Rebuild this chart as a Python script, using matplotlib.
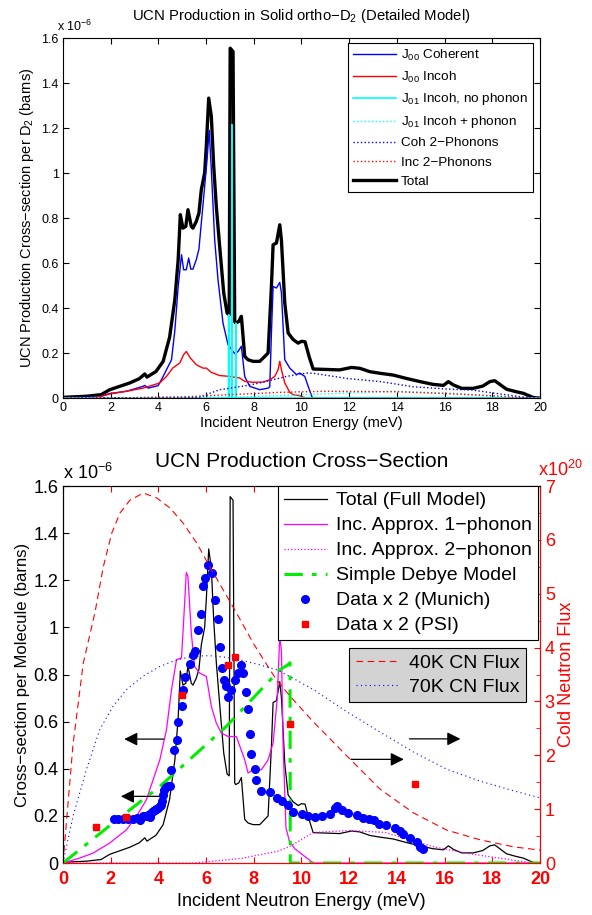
import matplotlib
matplotlib.use("Agg")
import matplotlib.pyplot as plt
from matplotlib.ticker import MultipleLocator

plt.rcParams['font.family'] = ['Liberation Sans', 'DejaVu Sans']
plt.rcParams['mathtext.default'] = 'regular'

# ---- data (cross-sections in units of 1e-6 barns, energies in meV) ----
tot_x = [0, 1.0, 1.6, 1.96, 2.38, 2.8, 3.2, 3.43, 3.52, 3.9, 4.2, 4.47, 4.69, 4.83, 4.92,
         5.03, 5.15, 5.24, 5.38, 5.45, 5.59, 5.7, 5.8, 5.94, 6.01, 6.11, 6.22, 6.32, 6.43,
         6.57, 6.74, 6.88, 6.97, 7.01, 7.13, 7.2, 7.24, 7.37, 7.48, 7.62, 7.76, 7.97, 8.25,
         8.46, 8.6, 8.74, 8.81, 8.95, 9.09, 9.16, 9.3, 9.44, 9.65, 9.86, 10.0, 10.15, 10.32,
         10.49, 11.05, 11.6, 12.1, 12.45, 12.87, 13.29, 13.85, 14.4, 14.97, 15.5, 15.95,
         16.16, 16.37, 16.72, 17.2, 17.6, 17.9, 18.1, 18.3, 18.6, 19.0, 19.3, 19.7, 19.9, 20]
tot_y = [0.003, 0.008, 0.015, 0.037, 0.052, 0.067, 0.086, 0.107, 0.093, 0.118, 0.163, 0.27,
         0.437, 0.615, 0.815, 0.755, 0.763, 0.837, 0.763, 0.755, 0.785, 0.822, 0.926, 1.0,
         1.12, 1.333, 1.252, 1.03, 0.85, 0.674, 0.467, 0.378, 0.37, 1.555, 1.54, 0.34, 0.333,
         0.34, 0.363, 0.185, 0.17, 0.163, 0.163, 0.185, 0.2, 0.496, 0.681, 0.689, 0.77, 0.7,
         0.422, 0.289, 0.26, 0.244, 0.252, 0.25, 0.184, 0.129, 0.127, 0.125, 0.136, 0.132,
         0.117, 0.11, 0.102, 0.087, 0.073, 0.061, 0.056, 0.073, 0.058, 0.043, 0.043, 0.053,
         0.073, 0.077, 0.062, 0.039, 0.028, 0.021, 0.003, 0.0, 0.0]

coh_x = [0, 1.5, 1.96, 2.66, 3.36, 3.43, 3.57, 3.99, 4.2, 4.55, 4.69, 4.83, 4.97, 5.06, 5.17,
         5.27, 5.36, 5.45, 5.59, 5.7, 5.8, 5.94, 6.04, 6.13, 6.22, 6.36, 6.5, 6.71, 6.92, 7.2,
         7.34, 7.48, 7.62, 7.83, 8.25, 8.6, 8.67, 8.74, 8.81, 8.95, 9.09, 9.16, 9.3, 9.51,
         9.79, 9.93, 10.14, 10.28, 10.46, 20]
coh_y = [0, 0.005, 0.02, 0.03, 0.052, 0.056, 0.044, 0.055, 0.096, 0.17, 0.30, 0.496, 0.637,
         0.57, 0.57, 0.622, 0.573, 0.573, 0.615, 0.662, 0.778, 0.94, 1.06, 1.19, 1.015, 0.704,
         0.526, 0.333, 0.237, 0.197, 0.207, 0.23, 0.096, 0.052, 0.037, 0.044, 0.05, 0.289,
         0.496, 0.489, 0.514, 0.467, 0.17, 0.133, 0.104, 0.111, 0.096, 0.052, 0.0, 0.0]

inc_x = [0, 1.2, 1.6, 1.96, 2.66, 3.36, 4.06, 4.34, 4.6, 4.9, 5.06, 5.17, 5.34, 5.59, 5.87,
         6.01, 6.22, 6.57, 6.99, 7.41, 7.62, 7.97, 8.39, 8.67, 8.88, 9.02, 9.09, 9.16, 9.3,
         9.51, 9.65, 9.93, 10.18, 20]
inc_y = [0, 0.002, 0.007, 0.018, 0.03, 0.044, 0.067, 0.096, 0.133, 0.156, 0.193, 0.207,
         0.178, 0.148, 0.133, 0.133, 0.114, 0.1, 0.096, 0.089, 0.074, 0.07, 0.071, 0.081,
         0.096, 0.126, 0.163, 0.126, 0.067, 0.025, 0.015, 0.01, 0.0, 0.0]

j01_x = [0, 6.94, 6.95, 6.96, 7.07, 7.08, 7.09, 7.24, 7.25, 7.26, 20]
j01_y = [0, 0, 0.37, 0, 0, 1.215, 0, 0, 0.333, 0, 0]

j01p_x = [0, 7.0, 10.0, 14.0, 16.5, 19.0, 20]
j01p_y = [0, 0.003, 0.015, 0.03, 0.02, 0.0, 0.0]

coh2_x = [0, 5.7, 6.57, 7.69, 8.25, 9.37, 10.2, 10.5, 11.9, 13.3, 14.7, 16.1, 17.2, 18.2, 19.4, 20]
coh2_y = [0, 0.003, 0.037, 0.055, 0.067, 0.096, 0.111, 0.11, 0.087, 0.073, 0.05, 0.04,
          0.035, 0.02, 0.003, 0.0]

inc2_x = [0, 2.0, 5.0, 7.0, 8.5, 9.0, 11.0, 14.0, 16.0, 18.0, 19.5, 20]
inc2_y = [0, 0.0, 0.005, 0.015, 0.022, 0.025, 0.03, 0.028, 0.02, 0.01, 0.0, 0.0]

# bottom panel
ph1_x = [0, 0.7, 1.26, 1.96, 2.66, 3.08, 3.5, 3.92, 4.06, 4.34, 4.55, 4.76, 4.97, 5.06, 5.17,
         5.24, 5.38, 5.52, 5.73, 6.01, 6.22, 6.43, 6.64, 6.92, 7.27, 7.62, 7.76, 7.97, 8.32,
         8.6, 8.81, 8.98, 9.09, 9.16, 9.23, 9.35, 9.5, 9.73, 10.15, 10.5, 20]
ph1_y = [0, 0.021, 0.042, 0.085, 0.141, 0.198, 0.269, 0.396, 0.438, 0.566, 0.735, 0.863,
         0.87, 1.03, 1.233, 1.216, 0.976, 0.834, 0.806, 0.792, 0.665, 0.594, 0.552, 0.537,
         0.537, 0.438, 0.382, 0.396, 0.396, 0.438, 0.509, 0.693, 0.962, 0.9, 0.5, 0.15,
         0.09, 0.06, 0.027, 0.0, 0.0]

ph2_x = [0, 5.5, 7.5, 9.0, 9.5, 10.5, 12.0, 13.5, 14.5, 15.5, 17.0, 18.7, 19.7, 20]
ph2_y = [0, 0.0, 0.02, 0.05, 0.07, 0.13, 0.138, 0.13, 0.1, 0.07, 0.04, 0.015, 0.0, 0.0]

deb_x = [0, 2.1, 4.06, 6.85, 9.09, 9.44, 9.52, 9.53, 20]
deb_y = [0, 0.17, 0.325, 0.58, 0.82, 0.842, 0.85, 0.0, 0.0]

mun_x = [2.13, 2.31, 2.52, 2.73, 2.94, 3.10, 3.24, 3.36, 3.47, 3.57, 3.66, 3.71, 3.78, 3.85,
         3.92, 3.99, 4.06, 4.13, 4.17, 4.20, 4.22, 4.31, 4.41, 4.48, 4.52, 4.64, 4.78, 4.83,
         4.97, 5.03, 5.10, 5.31, 5.45, 5.52, 5.66, 5.80, 5.87, 5.94, 6.08, 6.25, 6.36, 6.50,
         6.57, 6.67, 6.74, 6.85, 6.92, 7.06, 7.23, 7.34, 7.48, 7.55, 7.66, 7.76, 7.83, 7.90,
         8.04, 8.11, 8.32, 8.70, 8.98, 9.20, 9.44, 9.66, 10.01, 10.29, 10.57, 10.85, 11.19,
         11.40, 11.50, 11.68, 11.96, 12.31, 12.59, 12.84, 13.04, 13.25, 13.54, 13.92, 14.13,
         14.27, 14.55, 14.83, 14.97, 15.11]
mun_y = [0.187, 0.187, 0.187, 0.187, 0.187, 0.191, 0.184, 0.198, 0.201, 0.205, 0.194, 0.212,
         0.219, 0.223, 0.229, 0.233, 0.24, 0.248, 0.262, 0.29, 0.311, 0.321, 0.325, 0.325,
         0.396, 0.481, 0.523, 0.597, 0.665, 0.735, 0.789, 0.846, 0.884, 0.902, 0.987, 1.058,
         1.174, 1.209, 1.266, 1.231, 1.117, 1.035, 0.919, 0.827, 0.778, 0.75, 0.704, 0.735,
         0.778, 0.806, 0.84, 0.806, 0.727, 0.653, 0.549, 0.461, 0.399, 0.354, 0.304, 0.301,
         0.276, 0.262, 0.248, 0.218, 0.207, 0.2, 0.194, 0.2, 0.208, 0.232, 0.243, 0.225,
         0.214, 0.204, 0.192, 0.185, 0.183, 0.166, 0.161, 0.147, 0.136, 0.123, 0.105, 0.09,
         0.069, 0.058]

psi_x = [1.40, 2.66, 4.98, 6.90, 7.23, 9.51, 14.76]
psi_y = [0.153, 0.194, 0.714, 0.842, 0.874, 0.591, 0.335]

# cold neutron flux, units of 1e20
f40_x = [0, 0.42, 0.85, 1.34, 1.69, 2.04, 2.39, 2.81, 3.37, 3.93, 4.49, 5.04, 5.61, 6.16,
         6.72, 7.28, 7.98, 8.95, 9.52, 10.5, 11.9, 13.3, 14.7, 16.1, 17.5, 18.9, 20]
f40_y = [0, 2.2, 3.71, 4.65, 5.5, 6.12, 6.5, 6.74, 6.87, 6.78, 6.59, 6.31, 5.94, 5.5, 5.07,
         4.64, 4.08, 3.4, 3.1, 2.62, 1.99, 1.37, 0.93, 0.61, 0.43, 0.30, 0.24]
f70_x = [0, 0.42, 0.98, 1.54, 2.1, 2.66, 3.36, 4.06, 4.76, 5.45, 6.15, 6.85, 7.55, 8.25, 8.95,
         9.65, 10.5, 11.9, 13.3, 14.7, 16.1, 17.5, 18.9, 20]
f70_y = [0, 0.87, 1.73, 2.48, 2.91, 3.22, 3.47, 3.65, 3.77, 3.84, 3.85, 3.82, 3.76, 3.68, 3.59,
         3.43, 3.22, 2.81, 2.43, 2.06, 1.74, 1.52, 1.34, 1.21]

fig = plt.figure(figsize=(5.92, 9.15), dpi=100)

# ---------------- top panel ----------------
ax = fig.add_axes([0.1064, 0.565, 0.8057, 0.3934])
ax.plot(coh_x, coh_y, color='#0000ff', lw=1, label='J$_{00}$ Coherent')
ax.plot(inc_x, inc_y, color='#ff0000', lw=1, label='J$_{00}$ Incoh')
ax.plot(j01_x, j01_y, color='#00ffff', lw=1.2, label='J$_{01}$ Incoh, no phonon')
ax.plot(j01p_x, j01p_y, color='#00ffff', lw=1, ls=':', label='J$_{01}$ Incoh + phonon')
ax.plot(coh2_x, coh2_y, color='#0000ff', lw=1, ls=':', label='Coh 2\u2212Phonons')
ax.plot(inc2_x, inc2_y, color='#ff0000', lw=1, ls=':', label='Inc 2\u2212Phonons')
ax.plot(tot_x, tot_y, color='black', lw=2.4, label='Total', zorder=1.9)
ax.set_xlim(0, 20)
ax.set_ylim(0, 1.6)
ax.set_xticks(range(0, 21, 2))
ax.set_yticks([0, 0.2, 0.4, 0.6, 0.8, 1, 1.2, 1.4, 1.6])
ax.set_yticklabels(['0', '0.2', '0.4', '0.6', '0.8', '1', '1.2', '1.4', '1.6'])
ax.tick_params(direction='in', top=True, right=True, labelsize=9, length=4, pad=3)
ax.set_xlabel('Incident Neutron Energy (meV)', fontsize=10.5, labelpad=1)
ax.set_ylabel('UCN Production Cross\u2212section per D$_2$ (barns)', fontsize=10.5, labelpad=4)
ax.set_title('UCN Production in Solid ortho\u2212D$_2$ (Detailed Model)', fontsize=10.7, pad=13)
ax.text(-0.012, 1.012, 'x 10$^{-6}$', transform=ax.transAxes, fontsize=9, ha='left', va='bottom')
leg = ax.legend(loc='upper right', bbox_to_anchor=(0.985, 0.986), borderaxespad=0,
                fontsize=9.7, fancybox=False, edgecolor='black', framealpha=1,
                handlelength=3.2, labelspacing=0.5, borderpad=0.35, handletextpad=0.4)
leg.get_frame().set_linewidth(0.8)

# ---------------- bottom panel ----------------
bx = fig.add_axes([0.1064, 0.0568, 0.8057, 0.412])
l1, = bx.plot(tot_x, tot_y, color='black', lw=0.9, label='Total (Full Model)')
l2, = bx.plot(ph1_x, ph1_y, color='#ff00ff', lw=0.9, label='Inc. Approx. 1\u2212phonon')
l3, = bx.plot(ph2_x, ph2_y, color='#ff00ff', lw=0.9, ls=':', label='Inc. Approx. 2\u2212phonon')
l4, = bx.plot(deb_x, deb_y, color='#00ee00', lw=2.2, ls='-.', dashes=(6, 3, 1.5, 3),
              label='Simple Debye Model')
l5, = bx.plot(mun_x, mun_y, 'o', color='#0000ff', ms=5.5, mec='#0000ff', ls='none',
              label='Data x 2 (Munich)', zorder=4)
l6, = bx.plot(psi_x, psi_y, 's', color='#ff0000', ms=5, ls='none',
              label='Data x 2 (PSI)', zorder=5)
bx.set_xlim(0, 20)
bx.set_ylim(0, 1.6)
bx.set_xticks(range(0, 21, 2))
bx.set_yticks([0, 0.2, 0.4, 0.6, 0.8, 1, 1.2, 1.4, 1.6])
bx.set_yticklabels(['0', '0.2', '0.4', '0.6', '0.8', '1', '1.2', '1.4', '1.6'])
bx.tick_params(direction='in', top=True, labelsize=13, length=4)
bx.tick_params(axis='x', colors='red', labelcolor='red', pad=6)
for lab in bx.get_xticklabels():
    lab.set_fontweight('bold')
bx.spines['bottom'].set_color('red')
bx.set_xlabel('Incident Neutron Energy (meV)', fontsize=13, labelpad=3)
bx.set_ylabel('Cross\u2212section per Molecule (barns)', fontsize=12, labelpad=2)
bx.set_title('UCN Production Cross\u2212Section', fontsize=15, pad=14)
bx.text(0.0, 1.008, 'x 10$^{-6}$', transform=bx.transAxes, fontsize=13, ha='left', va='bottom')

# arrows pointing to the axis each curve belongs to
bx.annotate('', xy=(2.45, 0.526), xytext=(4.34, 0.526),
            arrowprops=dict(arrowstyle='-|>', color='black', lw=0.9, mutation_scale=20))
bx.annotate('', xy=(2.31, 0.283), xytext=(4.41, 0.283),
            arrowprops=dict(arrowstyle='-|>', color='black', lw=0.9, mutation_scale=20))
bx.annotate('', xy=(14.41, 0.44), xytext=(11.96, 0.44),
            arrowprops=dict(arrowstyle='-|>', color='black', lw=0.9, mutation_scale=20))
bx.annotate('', xy=(16.78, 0.527), xytext=(14.41, 0.527),
            arrowprops=dict(arrowstyle='-|>', color='black', lw=0.9, mutation_scale=20))

b2 = bx.twinx()
m1, = b2.plot(f40_x, f40_y, color='#ff0000', lw=0.8, ls=(0, (6, 4)), label='40K CN Flux')
m2, = b2.plot(f70_x, f70_y, color='#0000ff', lw=0.8, ls=(0, (1, 3)), label='70K CN Flux')
b2.set_ylim(0, 7)
b2.set_xlim(0, 20)
b2.set_yticks(range(0, 8))
b2.yaxis.set_minor_locator(MultipleLocator(0.5))
b2.tick_params(axis='y', which='both', direction='in', colors='red', labelcolor='red',
               labelsize=13)
b2.tick_params(axis='y', which='major', length=4)
b2.tick_params(axis='y', which='minor', length=3)
b2.spines['right'].set_color('red')
b2.spines['bottom'].set_color('red')
b2.set_ylabel('Cold Neutron Flux', color='red', fontsize=13, labelpad=2)
b2.text(0.995, 1.015, 'x10$^{20}$', transform=b2.transAxes, fontsize=13, color='red',
        ha='left', va='bottom')

lg1 = b2.legend([l1, l2, l3, l4, l5, l6], [h.get_label() for h in [l1, l2, l3, l4, l5, l6]],
                loc='upper right', bbox_to_anchor=(0.996, 1.0), borderaxespad=0,
                fontsize=14, fancybox=False, edgecolor='black', framealpha=1,
                handlelength=2.2, labelspacing=0.38, borderpad=0.3, handletextpad=0.5,
                numpoints=1)
lg1.get_frame().set_linewidth(0.8)
b2.add_artist(lg1)
lg2 = b2.legend([m1, m2], ['40K CN Flux', '70K CN Flux'], loc='upper right',
                bbox_to_anchor=(0.971, 0.571), borderaxespad=0, fontsize=14,
                fancybox=False, edgecolor='black', facecolor='#d3d3d3', framealpha=1,
                handlelength=2.2, labelspacing=0.3, borderpad=0.35, handletextpad=0.5)
lg2.get_frame().set_linewidth(0.8)

fig.savefig('out.png', dpi=100)
